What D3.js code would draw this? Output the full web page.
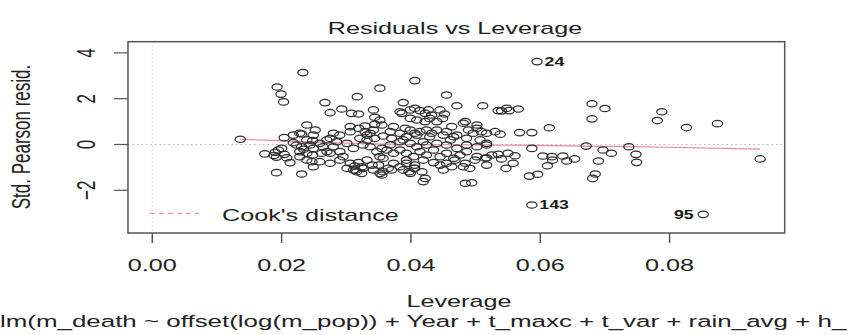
<!DOCTYPE html>
<html><head><meta charset="utf-8">
<script src="https://cdn.jsdelivr.net/npm/d3@7"></script>
<style>html,body{margin:0;padding:0;background:#fff;overflow:hidden}</style>
</head><body>
<svg id="c" width="850" height="335"></svg>
<script>
// Leverage (x) and standardized Pearson residuals (y); first three are the labelled points
const leverage = [
0.0595,0.0587,0.0852,
0.0233,0.0406,0.0193,0.0352,0.0199,0.0317,0.0455,0.0203,0.0267,0.0388,0.0680,0.0700,0.0788,0.0680,0.0781,0.0826,0.0874,0.0471,0.0511,
0.0535,0.0540,0.0548,0.0552,0.0566,
0.0275,0.0293,0.0308,0.0319,
0.0342,0.0344,0.0352,0.0355,
0.0383,0.0399,0.0406,0.0414,0.0422,0.0427,0.0432,0.0445,0.0449,0.0386,0.0452,
0.0484,
0.0399,0.0409,0.0422,0.0429,0.0440,
0.0239,0.0252,0.0249,0.0239,
0.0280,0.0290,0.0275,0.0285,
0.0306,0.0319,0.0329,0.0337,
0.0321,0.0332,0.0344,0.0357,0.0368,
0.0383,0.0393,0.0406,0.0414,0.0424,0.0432,
0.0455,0.0463,0.0466,0.0481,0.0489,0.0502,0.0509,0.0517,0.0530,
0.0538,0.0568,0.0587,0.0614,
0.0136,0.0204,0.0218,0.0231,0.0248,0.0218,
0.0228,0.0259,0.0270,
0.0306,0.0332,0.0342,0.0373,0.0370,0.0388,0.0399,0.0409,0.0419,0.0429,0.0440,0.0450,0.0461,0.0471,0.0486,0.0496,0.0507,0.0517,
0.0329,0.0344,0.0391,0.0502,
0.0517,0.0587,0.0671,0.0697,0.0737,0.0710,0.0748,0.0749,0.0940,
0.0517,0.0535,0.0550,0.0561,0.0540,0.0558,0.0547,0.0604,0.0618,0.0619,0.0611,0.0635,0.0641,0.0653,0.0690,0.0583,0.0596,0.0685,0.0681,
0.0174,0.0190,0.0195,0.0200,0.0188,0.0192,0.0204,0.0208,0.0213,0.0228,0.0234,0.0239,0.0223,0.0231,0.0244,0.0248,0.0247,0.0264,0.0270,0.0262,0.0192,0.0231,
0.0249,0.0280,0.0290,0.0275,0.0295,
0.0306,0.0313,0.0319,0.0324,0.0316,0.0324,
0.0301,0.0314,0.0326,0.0352,0.0370,0.0397,0.0405,
0.0342,0.0350,0.0357,0.0365,0.0355,
0.0383,0.0388,0.0399,0.0393,0.0406,
0.0417,0.0422,0.0419,
0.0450,0.0463,0.0481,0.0491,0.0517,
0.0484,0.0494,
0.0337,0.0347,0.0352,0.0363,0.0373,0.0383,0.0393,0.0404,0.0414,0.0424,0.0435,0.0445,0.0455,0.0466,0.0476,0.0486,0.0502,0.0515,0.0525,
0.0228,0.0239,0.0249,0.0259,0.0275,0.0290,0.0311,0.0332,0.0340,0.0357,0.0373,0.0393,0.0406,0.0419,0.0435,0.0445,0.0455,0.0468,0.0484,0.0499,
0.0301,0.0311,0.0326,0.0355,0.0368,0.0383,0.0399,0.0409,0.0424,0.0440,0.0455,0.0471,0.0486,0.0502
];
const stdResid = [
3.62,-2.64,-3.05,
3.14,2.79,2.51,2.46,2.20,2.09,2.16,1.86,1.83,1.83,1.78,1.57,1.43,1.12,1.05,0.74,0.91,1.69,1.69,
1.48,1.47,1.58,1.48,1.55,
1.39,1.55,1.36,1.33,
1.51,1.19,1.07,0.85,
1.43,1.51,1.58,1.48,1.36,1.51,1.29,1.51,1.14,1.36,1.33,
1.00,
1.14,1.07,1.00,1.14,1.00,
0.85,0.63,0.41,0.20,
0.49,0.41,0.27,0.12,
0.56,0.71,0.56,0.49,
0.27,0.20,0.27,0.37,0.56,
0.49,0.34,0.49,0.56,0.63,0.49,
0.56,0.78,0.34,0.93,0.63,0.71,0.56,0.49,0.56,
0.45,0.52,0.52,0.73,
0.23,0.30,0.41,0.46,0.17,0.08,
0.49,0.05,0.20,
0.78,0.41,0.63,0.78,0.27,0.20,0.63,0.41,0.12,0.34,0.63,0.41,0.20,0.41,0.27,0.49,0.20,0.05,
0.81,0.88,0.71,0.85,
-0.02,-0.17,-0.07,-0.24,-0.10,-0.38,-0.43,-0.78,-0.63,
-0.58,-0.43,-0.38,-0.49,-0.63,-0.82,-1.04,-0.50,-0.53,-0.68,-0.93,-0.50,-0.72,-0.63,-0.72,-1.38,-1.30,-1.29,-1.48,
-0.41,-0.34,-0.24,-0.17,-0.48,-0.55,-0.43,-0.58,-0.79,-0.31,-0.21,-0.38,-0.02,-0.10,-0.02,-0.46,-0.75,-0.10,-0.31,-0.38,-1.23,-1.29,
-0.17,-0.10,-0.31,-0.38,-0.53,
-0.82,-0.94,-0.79,-0.97,-1.19,-1.26,
-1.04,-1.12,-1.04,-1.26,-1.11,-1.19,-1.04,
-1.11,-0.90,-1.19,-1.04,-1.33,
-0.97,-1.11,-1.26,-0.82,-1.04,
-1.19,-1.48,-1.62,
-1.11,-0.97,-0.97,-1.04,-0.90,
-1.69,-1.67,
-0.10,-0.31,-0.53,-0.24,-0.38,-0.24,-0.38,-0.53,-0.31,-0.46,-0.24,-0.53,-0.38,-0.60,-0.46,-0.31,-0.53,-0.60,-0.46,
-0.53,-0.68,-0.97,-0.75,-0.82,-0.68,-1.11,-0.68,-0.90,-0.60,-0.82,-0.68,-0.90,-0.68,-0.79,-0.90,-0.82,-0.68,-0.82,-0.68,
0.05,-0.17,-0.02,-0.17,-0.02,0.12,0.05,-0.10,-0.02,0.05,-0.02,-0.17,-0.02,-0.10
];
const labelIdx = [0, 1, 2];
const labelText = ["24", "143", "95"];
const labelSide = ["right", "right", "left"];
// smoothed residual line (red)
const smoothLev = [0.0136,0.020,0.0275,0.034,0.040,0.050,0.060,0.070,0.080,0.094];
const smoothRes = [0.23,0.16,0.08,0.03,0.00,-0.02,-0.04,-0.08,-0.12,-0.20];
const xTicks = [0, 0.02, 0.04, 0.06, 0.08];
const xTickLabels = ["0.00", "0.02", "0.04", "0.06", "0.08"];
const yTicks = [-2, 0, 2, 4];
const yTickLabels = ["\u22122", "0", "2", "4"];
const titleText = "Residuals vs Leverage";
const xTitle = "Leverage";
const yTitle = "Std. Pearson resid.";
const caption = "lm(m_death ~ offset(log(m_pop)) + Year + t_maxc + t_var + rain_avg + h_";
const legendText = "Cook's distance";

const SX = 1.48;               // horizontal stretch of the original picture
const FONT = "'Liberation Sans', Arial, Helvetica, sans-serif";

const svg = d3.select("#c");
const x = d3.scaleLinear().domain([0, 0.08]).range([152.3, 669.6]);
const y = d3.scaleLinear().domain([0, 2]).range([144.5, 98.7]);
const xMin = -0.00376, xMax = 0.0978;
const boxL = x(xMin), boxR = x(xMax), boxT = 41.7, boxB = 233;

function stext(str, px, py, o = {}) {
  const g = svg.append("g")
    .attr("transform", `translate(${px},${py}) scale(${o.sx || SX},1)` + (o.rotate ? " rotate(-90)" : ""));
  return g.append("text").text(str)
    .attr("font-family", FONT)
    .attr("font-size", o.size || 17)
    .attr("font-weight", o.weight || "normal")
    .attr("fill", o.fill || "#222")
    .attr("text-anchor", o.anchor || "middle");
}

// reference dotted lines
svg.append("line").attr("x1", boxL).attr("x2", boxR).attr("y1", y(0)).attr("y2", y(0))
  .attr("stroke", "#b8b8b8").attr("stroke-width", 1).attr("stroke-dasharray", "1.5,3");
svg.append("line").attr("x1", x(0)).attr("x2", x(0)).attr("y1", boxT).attr("y2", boxB)
  .attr("stroke", "#c8c8c8").attr("stroke-width", 1.2).attr("stroke-dasharray", "1,3");

// smooth line
const line = d3.line().x((d, i) => x(smoothLev[i])).y((d, i) => y(smoothRes[i])).curve(d3.curveMonotoneX);
svg.append("path").datum(smoothLev).attr("d", line)
  .attr("fill", "none").attr("stroke", "#e8869a").attr("stroke-width", 1.2);

// points
svg.append("g").selectAll("ellipse").data(leverage).join("ellipse")
  .attr("cx", d => x(d)).attr("cy", (d, i) => y(stdResid[i]))
  .attr("rx", 5.1).attr("ry", 3.2)
  .attr("fill", "none").attr("stroke", "#2e2e2e").attr("stroke-width", 1.25);

// point labels
labelIdx.forEach((idx, k) => {
  const px = x(leverage[idx]), py = y(stdResid[idx]);
  const isRight = labelSide[k] === "right";
  stext(labelText[k], isRight ? px + 7.5 : px - 9.5, py + 4.3,
        {size: 12, anchor: isRight ? "start" : "end", fill: "#1a1a1a", weight: "bold"});
});

// box
svg.append("rect").attr("x", boxL).attr("y", boxT).attr("width", boxR - boxL).attr("height", boxB - boxT)
  .attr("fill", "none").attr("stroke", "#555").attr("stroke-width", 1.5);

// x axis
xTicks.forEach((t, i) => {
  svg.append("line").attr("x1", x(t)).attr("x2", x(t)).attr("y1", boxB).attr("y2", boxB + 10)
    .attr("stroke", "#555").attr("stroke-width", 1.5);
  stext(xTickLabels[i], x(t), 271);
});
// y axis
yTicks.forEach((t, i) => {
  svg.append("line").attr("x1", boxL).attr("x2", boxL - 14).attr("y1", y(t)).attr("y2", y(t))
    .attr("stroke", "#555").attr("stroke-width", 1.2);
  stext(yTickLabels[i], 95, y(t), {rotate: true});
});

// titles
stext(titleText, 455, 34);
stext(xTitle, 459, 307);
stext(yTitle, 30, 137, {rotate: true});
stext(caption, 0, 327, {anchor: "start", sx: 1.525});

// legend
svg.append("line").attr("x1", 150).attr("x2", 199).attr("y1", 213.3).attr("y2", 213.3)
  .attr("stroke", "#ee95a6").attr("stroke-width", 1.2).attr("stroke-dasharray", "5,4");
stext(legendText, 222, 221, {anchor: "start"});
</script>
</body></html>
